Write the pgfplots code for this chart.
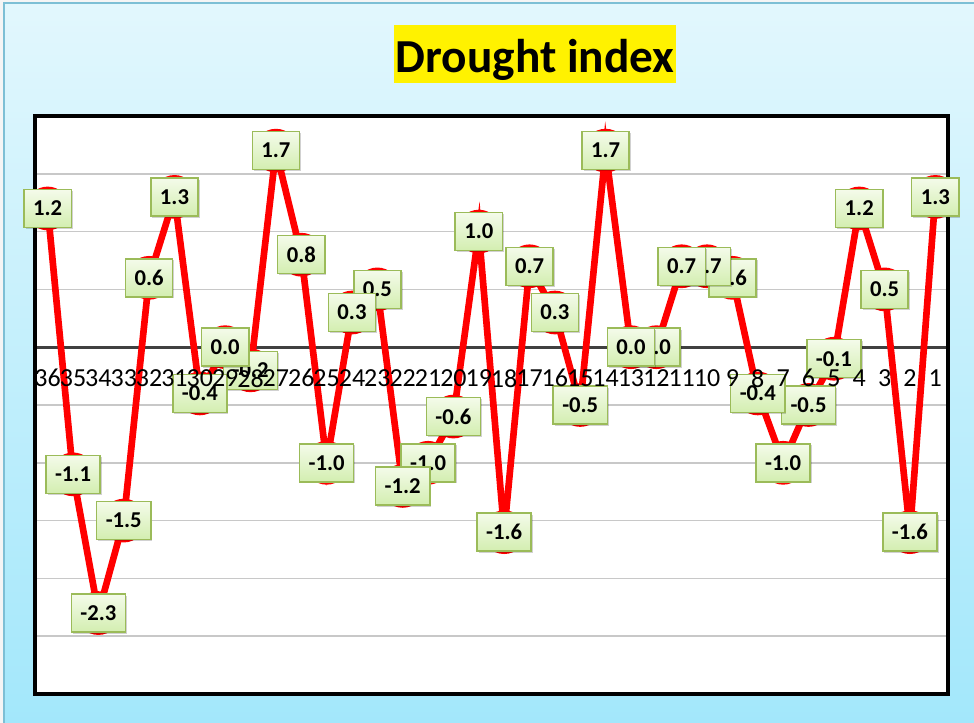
\documentclass[border=0pt]{standalone}
\usepackage{pgfplots}
\pgfplotsset{compat=1.18}
\usepackage{pgfplotstable}
\usepackage{fontspec}
\setmainfont{Carlito}
\usetikzlibrary{shadows}
\definecolor{bgtop}{HTML}{E2F7FD}
\definecolor{bgbot}{HTML}{A2E7FB}
\definecolor{bgborder}{HTML}{7DBFD5}
\definecolor{gridc}{HTML}{C8C8C8}
\definecolor{zeroc}{HTML}{404040}
\definecolor{lbltop}{HTML}{F4FBEA}
\definecolor{lblbot}{HTML}{D3EEB0}
\definecolor{lblborder}{HTML}{9BBB59}
\definecolor{markblue}{HTML}{5B7DB8}

\pgfplotstableread{
x y
1 1.3
2 -1.6
3 0.5
4 1.2
5 -0.1
6 -0.5
7 -1.0
8 -0.4
9 0.6
10 0.7
11 0.7
12 0.0
13 0.0
14 1.7
15 -0.5
16 0.3
17 0.7
18 -1.6
19 1.0
20 -0.6
21 -1.0
22 -1.2
23 0.5
24 0.3
25 -1.0
26 0.8
27 1.7
28 -0.2
29 0.0
30 -0.4
31 1.3
32 0.6
33 -1.5
34 -2.3
35 -1.1
36 1.2
}\drought

\pgfplotsset{
  droughtframe/.style={
    at={(0,0)}, anchor=south west,
    scale only axis, width=684.75pt, height=433.5pt,
    xmin=0.5, xmax=36.5, ymin=-3, ymax=2,
    x dir=reverse,
    axis x line=middle, axis y line=left,
    y axis line style={draw=none},
    xtick={1,...,36},
    xtick style={draw=none},
    ytick={-3,-2.5,-2,-1.5,-1,-0.5,0,0.5,1,1.5,2},
    yticklabels={},
    ytick style={draw=none},
    /pgf/number format/assume math mode=true,
    clip=false,
  }
}

\begin{document}
\begin{tikzpicture}
\fill[gray!8] (-26.25pt,-21.75pt) rectangle (704.25pt,520.5pt);
\shade[top color=bgtop,bottom color=bgbot] (-23.25pt,-30pt) rectangle (712pt,518.25pt);
\draw[bgborder,line width=1.2pt] (-23.25pt,-30pt) -- (-23.25pt,518.25pt) -- (712pt,518.25pt);
\fill[white] (0pt,0pt) rectangle (684.75pt,433.5pt);
\begin{axis}[
 droughtframe,
 x axis line style={draw=zeroc, line width=2.5pt, -},
 ymajorgrids, grid style={draw=gridc, line width=1.1pt},
 xticklabels={},
]
\addplot[red, line width=5pt, mark=*, mark size=15.5pt,
  mark options={draw=red, fill=markblue, line width=1.8pt}] table[x=x,y=y]{\drought};
\end{axis}
\draw[black, line width=3.2pt] (0pt,0pt) rectangle (684.75pt,433.5pt);
\begin{axis}[
 droughtframe,
 x axis line style={draw=none},
 xticklabels={},
]
\addplot[draw=none, mark=none, point meta=y,
  nodes near coords={\pgfmathprintnumber[fixed,fixed zerofill,precision=1,assume math mode=true]{\pgfplotspointmeta}},
  every node near coord/.append style={anchor=center, font=\fontsize{17}{20}\selectfont\bfseries,
    text=black, draw=lblborder, line width=1.1pt, top color=lbltop, bottom color=lblbot,
    inner xsep=6.8pt, inner ysep=2pt, minimum height=28.5pt,
    drop shadow={shadow xshift=1.2pt, shadow yshift=-1.2pt, fill=black, opacity=0.18}}
  ] table[x=x,y=y]{\drought};
\end{axis}
\begin{axis}[
 droughtframe,
 x axis line style={draw=none},
 xticklabel style={font=\fontsize{19.5}{21}\selectfont, yshift=-11pt},
]
\addplot[draw=none, mark=none] coordinates {(1,0) (36,0)};
\end{axis}
\node[fill=yellow, inner xsep=1.5pt, inner ysep=3pt, text height=32.6pt, text depth=4.9pt,
  font=\fontsize{35.5}{40}\selectfont\bfseries] at (375pt,480pt) {Drought index};
\pgfresetboundingbox
\path[use as bounding box] (-26.25pt,-21.75pt) rectangle (704.25pt,520.5pt);
\end{tikzpicture}
\end{document}
